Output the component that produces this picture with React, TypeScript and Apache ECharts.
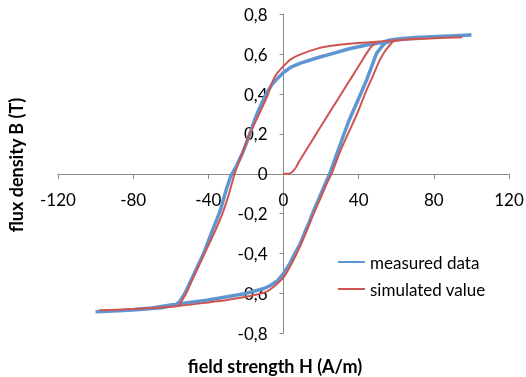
import React, { useEffect, useRef } from 'react';
import * as echarts from 'echarts';

// ---- measured data (blue) ----
const measuredDownH = [100, 85, 70, 62, 56, 52.5, 44.2, 35, 26.4, 18, 8.7, 4, 0, -3, -6, -9, -12, -15, -17, -19.5, -22, -25, -28, -30.5, -33.5, -35.5, -38.5, -42.5, -47.5, -52.5, -55, -57.5, -65, -80, -100];
const measuredDownB = [0.696, 0.69, 0.684, 0.678, 0.67, 0.658, 0.646, 0.627, 0.604, 0.582, 0.554, 0.535, 0.508, 0.48, 0.45, 0.405, 0.345, 0.28, 0.225, 0.16, 0.1, 0.04, -0.01, -0.08, -0.18, -0.23, -0.3, -0.4, -0.5, -0.6, -0.638, -0.658, -0.672, -0.683, -0.692];
const measuredUpH = [-100, -85, -70, -60, -50, -40, -30, -20, -10, -7, -3, 0, 3.4, 6, 8.7, 11.5, 14, 16.5, 19.3, 22, 24.6, 28, 31.7, 35, 38.9, 41.5, 44.2, 47, 49.5, 52, 53.9, 58, 65, 75, 85, 100];
const measuredUpB = [-0.695, -0.686, -0.673, -0.658, -0.645, -0.633, -0.617, -0.6, -0.574, -0.56, -0.535, -0.5, -0.45, -0.4, -0.355, -0.29, -0.235, -0.175, -0.115, -0.055, 0, 0.09, 0.186, 0.27, 0.354, 0.41, 0.47, 0.54, 0.604, 0.635, 0.654, 0.67, 0.676, 0.683, 0.689, 0.696];

// ---- simulated value (red) ----
const simDownH = [95, 80, 70, 62, 55, 44.2, 35, 26.4, 18, 8.7, 4, 0, -3.7, -6, -8.2, -10, -12, -15, -18, -22, -26, -29, -32.5, -37, -42, -47, -51.8, -54, -56, -60, -80, -98];
const simDownB = [0.685, 0.68, 0.677, 0.671, 0.666, 0.659, 0.652, 0.643, 0.628, 0.598, 0.575, 0.54, 0.5, 0.46, 0.4, 0.36, 0.32, 0.26, 0.2, 0.1, 0, -0.1, -0.2, -0.3, -0.4, -0.5, -0.6, -0.635, -0.663, -0.667, -0.678, -0.685];
const simUpH = [-98, -80, -60, -40, -30, -20, -10, -5, 0, 3.4, 6, 8.7, 11.5, 14, 16.5, 19.3, 22.5, 26, 30.5, 35.3, 40, 44.2, 48, 51.2, 54, 56.6, 58.3, 62, 70, 80, 95];
const simUpB = [-0.685, -0.678, -0.667, -0.645, -0.633, -0.617, -0.595, -0.565, -0.52, -0.466, -0.42, -0.366, -0.305, -0.248, -0.19, -0.131, -0.06, 0.01, 0.12, 0.22, 0.32, 0.42, 0.5, 0.57, 0.615, 0.646, 0.663, 0.67, 0.675, 0.68, 0.685];
const simInitH = [0, 2.5, 4.5, 6.5, 8.7, 12, 17, 22, 26.4, 31, 36, 40.5, 44.2, 46.5, 49];
const simInitB = [0, 0, 0.008, 0.03, 0.068, 0.118, 0.194, 0.27, 0.336, 0.405, 0.48, 0.548, 0.604, 0.635, 0.66];

const seriesNames = ['measured data', 'simulated value'];
const xAxisTitle = 'field strength H (A/m)';
const yAxisTitle = 'flux density B (T)';

const zip = (h: number[], b: number[]) => h.map((v, i) => [v, b[i]]);

const FONT = 'Lato, "Open Sans", sans-serif';
const BLUE = '#5f96d2';
const RED = '#cf5550';
const AXIS = '#8a8a8a';

const GRID = { left: 58, right: 17, top: 14.3, bottom: 43.7 };
const W = 526;
const H = 377;

export default function App() {
  const ref = useRef<HTMLDivElement>(null);
  useEffect(() => {
    if (!ref.current) return;
    const chart = echarts.init(ref.current, undefined, { renderer: 'svg' });
    const measured = [...zip(measuredDownH, measuredDownB), ...zip(measuredUpH, measuredUpB)];
    const simLoop = [...zip(simDownH, simDownB), ...zip(simUpH, simUpB)];
    const simInit = zip(simInitH, simInitB);
    const plotW = W - GRID.left - GRID.right;
    const plotH = H - GRID.top - GRID.bottom;
    chart.setOption({
      animation: false,
      grid: { ...GRID, containLabel: false, outerBoundsMode: 'none' },
      xAxis: {
        type: 'value', min: -120, max: 120, interval: 40,
        position: 'bottom', offset: -plotH / 2,
        axisLine: { onZero: false, lineStyle: { color: AXIS, width: 1 } },
        axisTick: { show: true, length: 5, lineStyle: { color: AXIS } },
        splitLine: { show: false },
        axisLabel: { fontSize: 17, color: '#000', fontFamily: FONT, margin: 17 },
      },
      yAxis: {
        type: 'value', min: -0.8, max: 0.8, interval: 0.2,
        position: 'left', offset: -plotW / 2,
        axisLine: { show: true, onZero: false, lineStyle: { color: AXIS, width: 1 } },
        axisTick: { show: true, length: 4, lineStyle: { color: AXIS } },
        splitLine: { show: false },
        axisLabel: {
          fontSize: 17, color: '#000', fontFamily: FONT, margin: 16,
          formatter: (v: number) => (Math.abs(v) < 1e-9 ? '0' : v.toFixed(1).replace('.', ',')),
        },
      },
      legend: {
        data: seriesNames,
        orient: 'vertical',
        left: 338, top: 252,
        padding: 0,
        icon: 'rect',
        itemWidth: 27, itemHeight: 2, itemGap: 7,
        textStyle: { fontSize: 17, color: '#000', fontFamily: FONT, lineHeight: 20 },
      },
      graphic: [
        {
          type: 'text', x: 275, y: 366,
          style: { text: xAxisTitle, fontSize: 18, fontWeight: 'bold', fontFamily: FONT, fill: '#000', align: 'center', verticalAlign: 'middle' },
        },
        {
          type: 'text', x: 16, y: 165, rotation: Math.PI / 2,
          style: { text: yAxisTitle, fontSize: 18, fontWeight: 'bold', fontFamily: FONT, fill: '#000', align: 'center', verticalAlign: 'middle' },
        },
      ],
      series: [
        {
          name: seriesNames[0], type: 'line', data: measured, symbol: 'none', smooth: false,
          lineStyle: { color: BLUE, width: 3.5 }, itemStyle: { color: BLUE },
        },
        {
          name: seriesNames[1], type: 'line', data: simLoop, symbol: 'none', smooth: 0.2,
          lineStyle: { color: RED, width: 2 }, itemStyle: { color: RED },
        },
        {
          name: seriesNames[1], type: 'line', data: simInit, symbol: 'none', smooth: 0.2,
          lineStyle: { color: RED, width: 2 }, itemStyle: { color: RED },
        },
      ],
    });
    return () => chart.dispose();
  }, []);
  return <div ref={ref} style={{ position: 'fixed', left: 0, top: 0, width: W, height: H }} />;
}
